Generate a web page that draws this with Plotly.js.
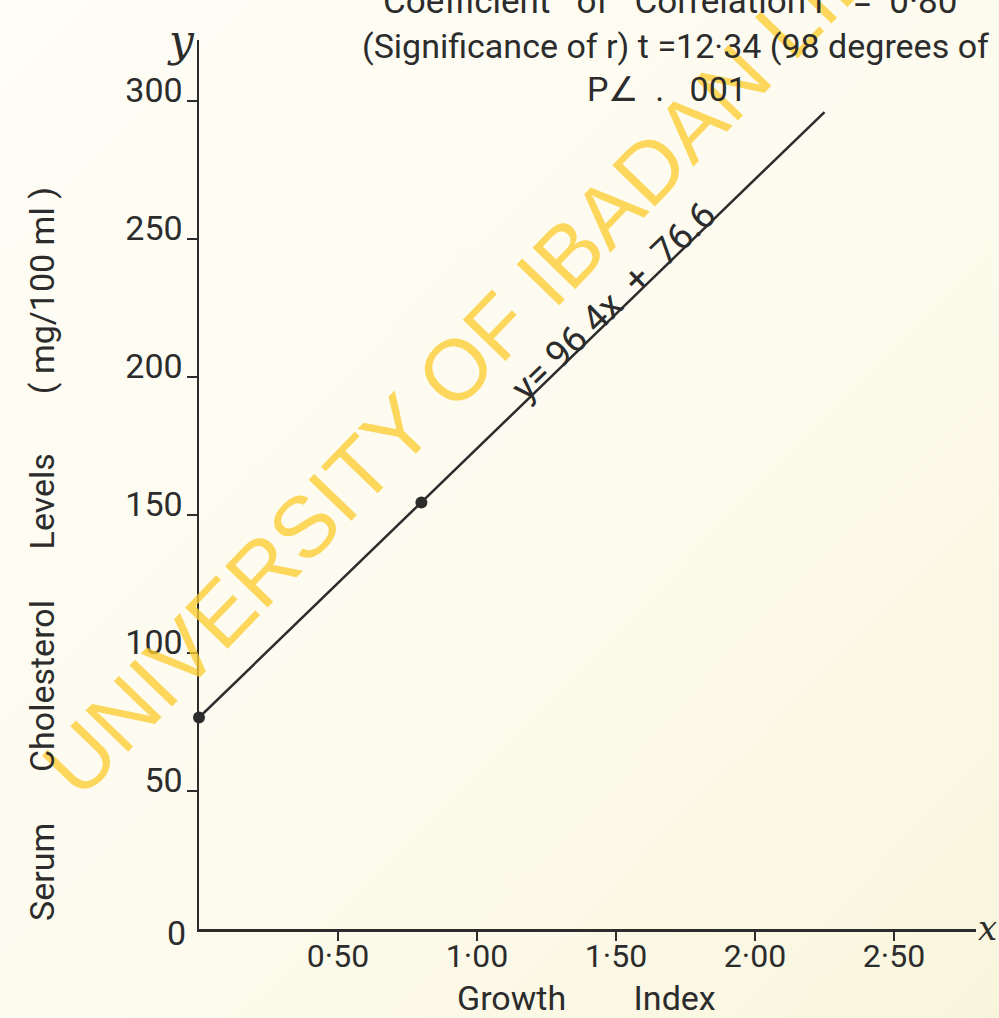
<!DOCTYPE html>
<html>
<head>
<meta charset="utf-8">
<script src="https://cdn.plot.ly/plotly-3.0.1.min.js"></script>
<style>
  html, body { margin: 0; padding: 0; background: #fcfaec; }
  #chart { width: 999px; height: 1018px; }
</style>
</head>
<body>
<div id="chart"></div>
<script>
// ---- data ----
const lineX = [0, 2.25];
const lineY = [76.6, 296];
const pointX = [0, 0.8];
const pointY = [76.6, 154.5];
const xTickVals = [0.5, 1.0, 1.5, 2.0, 2.5];
const xTickText = ['0·50', '1·00', '1·50', '2·00', '2·50'];
const yTickVals = [50, 100, 150, 200, 250, 300];
const yTickText = ['50', '100', '150', '200', '250', '300'];
const NB = '\u00a0';
const titleLines = [
  'Coefficient' + NB.repeat(3) + 'of' + NB.repeat(3) + 'Correlation' + NB + 'r' + NB.repeat(3) + '=' + NB.repeat(2) + '0·80',
  '(Significance of r) t =12·34 (98 degrees of',
  'P∠' + NB + NB + '.' + NB + NB + NB + '001'
];
const equationText = 'y=' + NB + '96' + NB + '4x' + NB + NB + '+' + NB + NB + '76.6';
const xTitle = 'Growth' + NB.repeat(8) + 'Index';
const yTitle = 'Serum' + NB.repeat(6) + 'Cholesterol' + NB.repeat(6) + 'Levels' + NB.repeat(7) + '(' + NB + 'mg/100' + NB + 'ml' + NB + ')';
const watermark = 'UNIVERSITY OF IBADAN LIBRARY';

// ---- layout geometry ----
const W = 999, H = 1018;
const M = { l: 199, r: 23, t: 40, b: 89 };
const PW = W - M.l - M.r, PH = H - M.t - M.b;
const ink = '#2c2c2c';
const FONT = 'Roboto, "Noto Sans", sans-serif';

function ann(text, px, py, extra) {
  return Object.assign({
    xref: 'paper', yref: 'paper',
    x: (px - M.l) / PW, y: (H - M.b - py) / PH,
    xanchor: 'center', yanchor: 'middle',
    showarrow: false, text: text,
    font: { family: FONT, size: 34, color: ink }
  }, extra || {});
}

const bgSvg = '<svg xmlns="http://www.w3.org/2000/svg" width="100" height="100" preserveAspectRatio="none">' +
  '<defs><linearGradient id="g" x1="0" y1="0" x2="1" y2="1">' +
  '<stop offset="0" stop-color="#fefdf6"/><stop offset="0.55" stop-color="#fdfbee"/><stop offset="1" stop-color="#f9f5dd"/>' +
  '</linearGradient></defs><rect width="100" height="100" fill="url(#g)"/></svg>';

const traces = [
  {
    x: lineX, y: lineY, mode: 'lines', type: 'scatter',
    line: { color: ink, width: 2.5 }, cliponaxis: false, hoverinfo: 'skip'
  },
  {
    x: pointX, y: pointY, mode: 'markers', type: 'scatter',
    marker: { color: ink, size: 12 }, cliponaxis: false, hoverinfo: 'skip'
  }
];

const annotations = [
  // watermark
  ann(watermark, 542, 280, {
    textangle: -46,
    font: { family: '"Liberation Sans", Arial, sans-serif', size: 86, color: 'rgba(252, 204, 50, 0.78)' }
  }),
  ann(titleLines[0], 670, 2, { font: { family: FONT, size: 35, color: ink } }),
  ann(titleLines[1], 360, 46, { xanchor: 'left' }),
  ann(titleLines[2], 667, 89, {}),
  ann(equationText, 613, 301, { textangle: -44, font: { family: FONT, size: 37, color: ink } }),
  ann(xTitle, 586, 998, { font: { family: FONT, size: 34, color: ink } }),
  ann(yTitle, 42, 554, { textangle: -90, font: { family: FONT, size: 34, color: ink } }),
  ann('0', 176, 933, { font: { family: FONT, size: 34, color: ink } }),
  ann('<i>y</i>', 181, 40, { font: { family: '"DejaVu Serif", serif', size: 44, color: ink } }),
  ann('<i>x</i>', 987, 928, { font: { family: '"DejaVu Serif", serif', size: 34, color: ink } })
];

const layout = {
  width: W, height: H,
  margin: M,
  paper_bgcolor: '#fcfaec',
  plot_bgcolor: 'rgba(0,0,0,0)',
  showlegend: false,
  images: [{
    source: 'data:image/svg+xml;charset=utf-8,' + encodeURIComponent(bgSvg),
    xref: 'paper', yref: 'paper',
    x: -M.l / PW, y: 1 + M.t / PH,
    sizex: W / PW, sizey: H / PH,
    xanchor: 'left', yanchor: 'top',
    sizing: 'stretch', layer: 'below'
  }],
  xaxis: {
    range: [0, PW / 278],
    showgrid: false, zeroline: false,
    showline: true, linecolor: ink, linewidth: 2.5,
    ticks: 'outside', ticklen: 9, tickwidth: 2, tickcolor: ink,
    tickvals: xTickVals, ticktext: xTickText,
    tickfont: { family: FONT, size: 32, color: ink },
    ticklabelstandoff: -12,
    fixedrange: true
  },
  yaxis: {
    range: [0, PH / 2.76],
    showgrid: false, zeroline: false,
    showline: true, linecolor: ink, linewidth: 2.5,
    ticks: 'outside', ticklen: 10, tickwidth: 2, tickcolor: ink,
    tickvals: yTickVals, ticktext: yTickText,
    tickfont: { family: FONT, size: 34, color: ink },
    ticklabelstandoff: -3, ticklabelshift: -11,
    fixedrange: true
  },
  annotations: annotations
};

Plotly.newPlot('chart', traces, layout, { displayModeBar: false, staticPlot: true });
</script>
</body>
</html>
